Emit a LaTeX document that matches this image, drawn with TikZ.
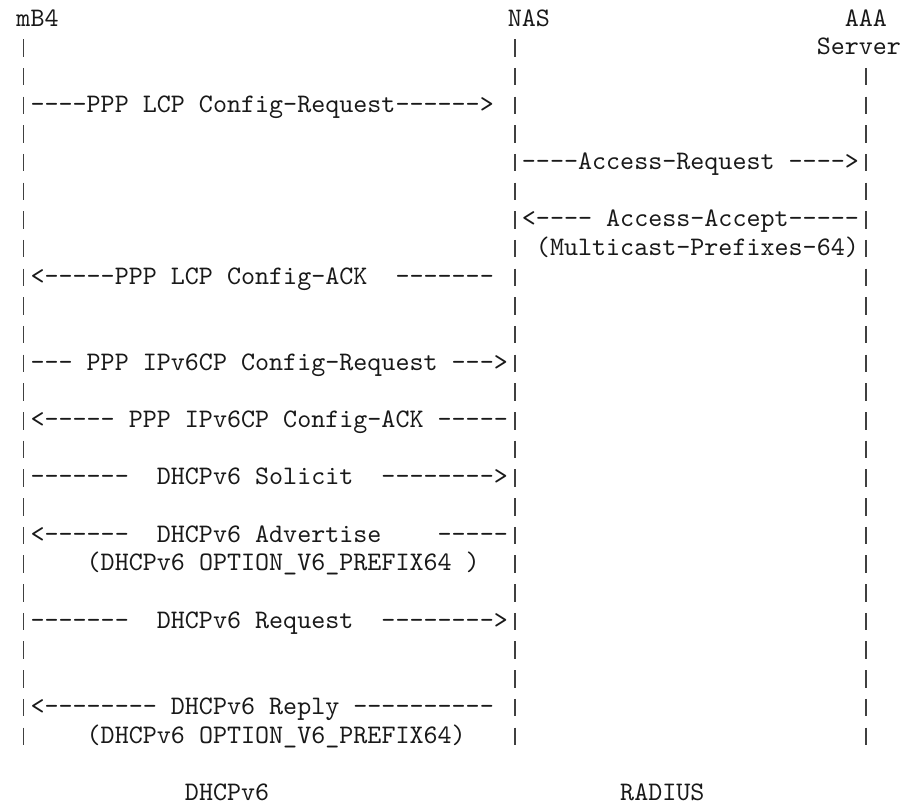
\documentclass[tikz,border=0pt]{standalone}
\usepackage{fontspec}
\setmonofont{lmmono10-regular.otf}
\usepackage{tikz}
\tikzset{
    txt/.style={anchor=base west,inner sep=0pt,outer sep=0pt,text=ink,
        font=\ttfamily\fontsize{26.74bp}{28.68bp}\selectfont},
    life/.style={line width=1.8bp,draw=bar,dash pattern=on 17.5bp off 11.18bp}
}
\begin{document}
\begin{tikzpicture}[x=14.04bp,y=-28.68bp]
                \colorlet{ink}{black!90}
                \colorlet{bar}{black!75}
                \path [use as bounding box] (-1.175,-0.9066) rectangle (63.996,27.197);

                \node [txt] (mb) at (0,0) {mB4};
                \node [txt] (nas) at (35,0) {NAS};
                \node [txt] (aaa) at (59,0) {AAA};
                \node [txt] (srv) at (57,1) {Server};

                \coordinate (mbtop) at (0.5,0.46);
                \coordinate (mbend) at (0.5,25.07);
                \coordinate (nastop) at (35.5,0.46);
                \coordinate (nasend) at (35.5,25.07);
                \coordinate (aaatop) at (60.5,1.46);
                \coordinate (aaaend) at (60.5,25.07);
                \draw [life] (mbtop) -- (mbend);
                \draw [life] (nastop) -- (nasend);
                \draw [life] (aaatop) -- (aaaend);

                \node [txt] (lcpreq) at (1,3) {----PPP LCP Config-Request------>};
                \node [txt] (accreq) at (36,5) {----Access-Request ---->};
                \node [txt] (accacc) at (36,7) {<---- Access-Accept-----};
                \node [txt] (mcpfx) at (37,8) {(Multicast-Prefixes-64)};
                \node [txt] (lcpack) at (1,9) {<-----PPP LCP Config-ACK~~-------};
                \node [txt] (v6req) at (1,12) {--- PPP IPv6CP Config-Request --->};
                \node [txt] (v6ack) at (1,14) {<----- PPP IPv6CP Config-ACK -----};
                \node [txt] (sol) at (1,16) {-------~~DHCPv6 Solicit~~-------->};
                \node [txt] (adv) at (1,18) {<------~~DHCPv6 Advertise~~~~-----};
                \node [txt] (advopt) at (5,19) {(DHCPv6 OPTION\_V6\_PREFIX64 )};
                \node [txt] (req) at (1,21) {-------~~DHCPv6 Request~~-------->};
                \node [txt] (rep) at (1,24) {<-------- DHCPv6 Reply ----------};
                \node [txt] (repopt) at (5,25) {(DHCPv6 OPTION\_V6\_PREFIX64)};

                \node [txt] (dhcp) at (12,27) {DHCPv6};
                \node [txt] (radius) at (43,27) {RADIUS};
            \end{tikzpicture}
\end{document}
